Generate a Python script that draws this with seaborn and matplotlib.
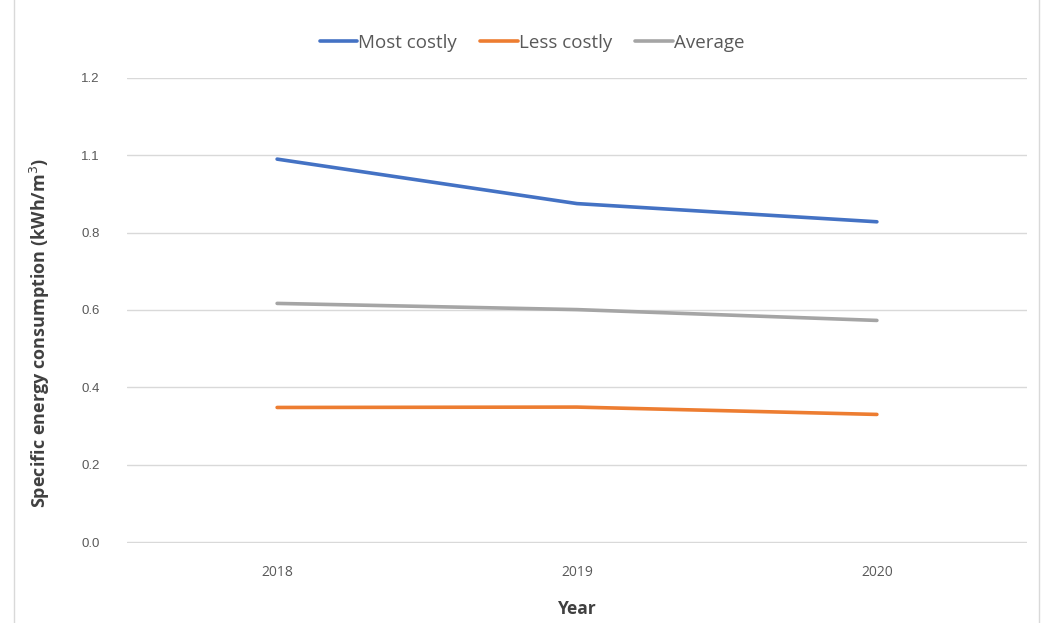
import seaborn as sns
import numpy as np
import pandas as pd
import matplotlib.pyplot as plt
from matplotlib.patches import Rectangle

years = [2018, 2019, 2020]
most_costly = [0.99, 0.875, 0.828]
less_costly = [0.348, 0.349, 0.330]
average = [0.617, 0.601, 0.573]
series_names = ["Most costly", "Less costly", "Average"]
y_ticks = [0.0, 0.2, 0.4, 0.6, 0.8, 1.0, 1.2]
y_tick_labels = ["0.0", "0.2", "0.4", "0.6", "0.8", "1.1", "1.2"]

df = pd.DataFrame({
    "Year": years * 3,
    "value": most_costly + less_costly + average,
    "series": np.repeat(series_names, len(years)),
})

sns.set_style("white")
plt.rcParams["font.family"] = ["Open Sans", "DejaVu Sans"]

fig = plt.figure(figsize=(10.51, 6.23), dpi=100)
ax = fig.add_axes([0.121, 0.128, 0.856, 0.747])

palette = {"Most costly": "#4472C4", "Less costly": "#ED7D31", "Average": "#A5A5A5"}
sns.lineplot(data=df, x="Year", y="value", hue="series", palette=palette,
             linewidth=2.6, ax=ax)

ax.set_xlim(2017.5, 2020.5)
ax.set_ylim(-0.003, 1.2)
ax.set_xticks(years)
ax.set_xticklabels([str(y) for y in years], fontsize=10, color="#595959")
ax.set_yticks(y_ticks)
ax.set_yticklabels(y_tick_labels, fontsize=9.5, color="#595959",
                   family=["Liberation Sans", "DejaVu Sans"])
ax.tick_params(axis="both", length=0)
ax.tick_params(axis="x", pad=16)
ax.tick_params(axis="y", pad=20)
ax.grid(axis="y", color="#D9D9D9", linewidth=1)
for s in ax.spines.values():
    s.set_visible(False)

ax.set_xlabel("Year", fontsize=12.5, fontweight="bold", color="#404040")
ax.xaxis.set_label_coords(0.5, -0.122)
ax.set_ylabel("Specific energy consumption (kWh/m$^3$)", fontsize=13,
              fontweight="bold", color="#404040")
ax.yaxis.set_label_coords(-0.083, 0.452)

handles, labels = ax.get_legend_handles_labels()
ax.legend(handles, labels, loc="lower center", bbox_to_anchor=(0.45, 1.02),
          ncol=3, frameon=False, fontsize=13.5, handlelength=2.0,
          handletextpad=0.05, columnspacing=1.25, labelcolor="#595959")

fig.patches.append(Rectangle((0.013, -0.01), 0.976, 1.02, transform=fig.transFigure,
                             fill=False, edgecolor="#D9D9D9", linewidth=1))

fig.savefig("out.png", dpi=100)
